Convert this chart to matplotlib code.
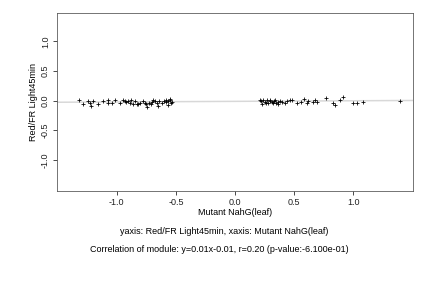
import matplotlib
matplotlib.use("Agg")
import matplotlib.pyplot as plt
import numpy as np

plt.rcParams['font.family'] = ['Liberation Sans', 'DejaVu Sans']

x_vals = [-1.316, -1.288, -1.24, -1.23, -1.22, -1.20, -1.155, -1.113, -1.076, -1.07,
          -1.042, -1.014, -0.972, -0.944, -0.93, -0.92, -0.902, -0.89, -0.88, -0.86,
          -0.845, -0.83, -0.82, -0.803, -0.78, -0.76, -0.75, -0.746, -0.73, -0.71,
          -0.70, -0.69, -0.677, -0.66, -0.648, -0.64, -0.62, -0.60, -0.585, -0.58,
          -0.569, -0.563, -0.55, -0.549, -0.543, -0.535,
          0.211, 0.22, 0.225, 0.24, 0.25, 0.26, 0.268, 0.28, 0.296, 0.30,
          0.31, 0.324, 0.33, 0.34, 0.35, 0.36, 0.366, 0.38, 0.40, 0.423,
          0.44, 0.465, 0.48, 0.52, 0.56, 0.585, 0.606, 0.62, 0.662, 0.676,
          0.69, 0.769, 0.83, 0.845, 0.888, 0.916, 1.0, 1.03, 1.085, 1.395]
y_vals = [0.017, -0.05, 0.0, -0.04, -0.08, 0.0, -0.06, 0.0, 0.02, -0.04,
          -0.04, 0.01, -0.04, 0.02, 0.0, -0.02, 0.0, -0.04, 0.02, -0.06,
          0.0, -0.05, -0.06, -0.03, 0.0, -0.03, -0.05, -0.10, -0.04, -0.05,
          -0.02, 0.02, 0.0, -0.04, -0.09, 0.0, -0.04, 0.0, -0.02, 0.02,
          -0.07, 0.0, 0.01, 0.03, -0.03, -0.02,
          0.01, 0.0, -0.05, 0.01, -0.02, -0.04, 0.01, -0.03, 0.01, 0.0,
          -0.02, -0.04, -0.01, 0.01, -0.03, -0.05, -0.02, 0.0, -0.02, -0.04,
          0.0, 0.01, 0.02, -0.04, -0.02, 0.03, -0.04, 0.0, -0.02, 0.01,
          -0.02, 0.04, -0.03, -0.07, 0.02, 0.07, -0.04, -0.04, -0.02, 0.0]

slope = 0.01
intercept = -0.01
xticks = [-1.0, -0.5, 0.0, 0.5, 1.0]
yticks = [-1.0, -0.5, 0.0, 0.5, 1.0]

fig = plt.figure(figsize=(6, 4), dpi=72)
ax = fig.add_axes([0.132, 0.337, 0.824, 0.618])
ax.set_xlim(-1.505, 1.505)
ax.set_ylim(-1.52, 1.48)
lx = np.array([-1.505, 1.505])
ax.plot(lx, slope * lx + intercept, color='#d8d8d8', lw=1.5, zorder=1)
ax.scatter(x_vals, y_vals, marker='+', color='black', s=16, linewidths=0.8, zorder=2)

ax.set_xticks(xticks)
ax.set_xticklabels(['-1.0', '-0.5', '0.0', '0.5', '1.0'])
ax.set_yticks(yticks)
ax.set_yticklabels(['-1.0', '-0.5', '0.0', '0.5', '1.0'], rotation=90, va='center')
ax.tick_params(direction='out', length=4, width=0.8, labelsize=9, colors='#222222', pad=3)
for s in ax.spines.values():
    s.set_color('#555555')
    s.set_linewidth(0.8)

ax.set_xlabel('Mutant NahG(leaf)', fontsize=9, labelpad=1)
ax.set_ylabel('Red/FR Light45min', fontsize=9, labelpad=3)

fig.text(224 / 432, (288 - 232) / 288, 'yaxis: Red/FR Light45min, xaxis: Mutant NahG(leaf)',
         fontsize=9, ha='center', va='center')
fig.text(219 / 432, (288 - 250) / 288, 'Correlation of module: y=0.01x-0.01, r=0.20 (p-value:-6.100e-01)',
         fontsize=9, ha='center', va='center')

fig.savefig('out.png', dpi=72)
